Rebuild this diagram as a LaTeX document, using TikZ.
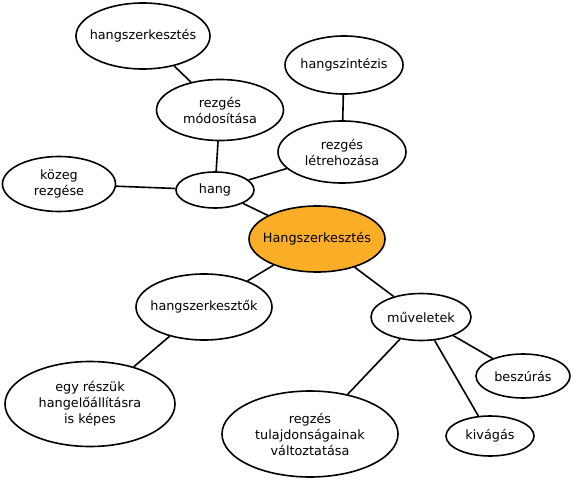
\documentclass[tikz,border=0pt]{standalone}
\usepackage{fontspec}
\setmainfont{DejaVu Sans}
\usetikzlibrary{shapes.geometric}

\definecolor{hubfill}{RGB}{250,174,40}

\begin{document}
\begin{tikzpicture}[
    x = 1pt, y = -1pt,
    every node/.style = {font=\fontsize{12.8}{16}\selectfont},
    bub/.style = {ellipse, draw, line width=1.6pt, align=center,
                  inner xsep=-12pt, inner ysep=0pt, fill=white},
    hub/.style = {bub, fill=hubfill},
    link/.style = {line width=1.6pt}
  ]
  \useasboundingbox (0,0) rectangle (573,481);

  % nodes
  \node[hub] (hsz) at (317,239) [minimum width=136pt, minimum height=66pt] {Hangszerkesztés};

  \node[bub] (hang) at (215,190) [minimum width=78pt,  minimum height=36pt] {hang};
  \node[bub] (kozeg) at (59,184) [minimum width=113pt, minimum height=55pt] {közeg\\rezgése};
  \node[bub] (modo) at (220,110) [minimum width=127pt, minimum height=61pt] {rezgés\\módosítása};
  \node[bub] (szerk) at (143,36) [minimum width=134pt, minimum height=66pt] {hangszerkesztés};
  \node[bub] (letre) at (342,152) [minimum width=128pt, minimum height=62pt] {rezgés\\létrehozása};
  \node[bub] (szint) at (344,65) [minimum width=118pt, minimum height=58pt] {hangszintézis};

  \node[bub] (prog) at (204,307) [minimum width=136pt, minimum height=66pt] {hangszerkesztők};
  \node[bub] (egy) at (90,404) [minimum width=170pt, minimum height=85pt] {egy részük\\hangelőállításra\\is képes};

  \node[bub] (muv) at (421,317) [minimum width=100pt, minimum height=47pt] {műveletek};
  \node[bub] (besz) at (523,376) [minimum width=94pt, minimum height=44pt] {beszúrás};
  \node[bub] (kiv) at (490,436) [minimum width=88pt, minimum height=40pt] {kivágás};
  \node[bub] (tul) at (310,434) [minimum width=176pt, minimum height=86pt] {regzés\\tulajdonságainak\\változtatása};

  % edges
  \draw[link] (hsz) -- (hang);
  \draw[link] (hang) -- (kozeg);
  \draw[link] (hang) -- (modo);
  \draw[link] (modo) -- (szerk);
  \draw[link] (hang) -- (letre);
  \draw[link] (letre) -- (szint);
  \draw[link] (hsz) -- (prog);
  \draw[link] (prog) -- (egy);
  \draw[link] (hsz) -- (muv);
  \draw[link] (muv) -- (besz);
  \draw[link] (muv) -- (kiv);
  \draw[link] (muv) -- (tul);

\end{tikzpicture}
\end{document}
